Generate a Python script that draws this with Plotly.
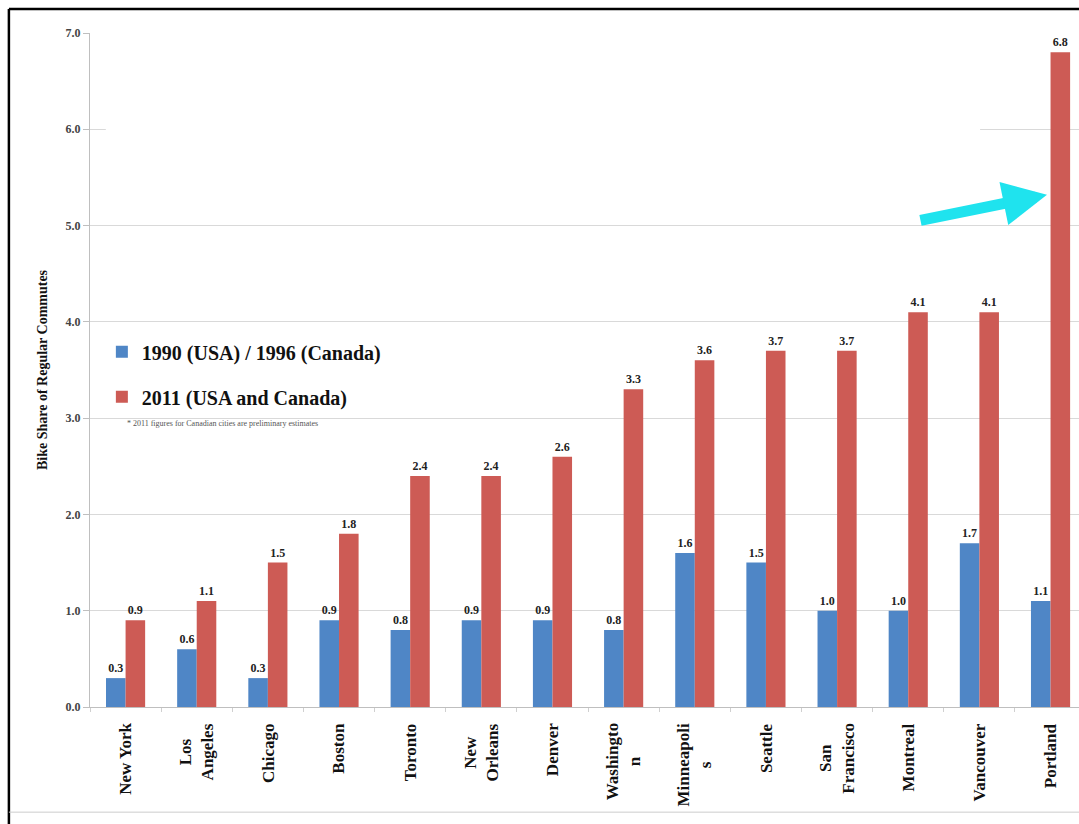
import plotly.graph_objects as go

cities = ["New York", "Los<br>Angeles", "Chicago", "Boston", "Toronto", "New<br>Orleans",
          "Denver", "Washingto<br>n", "Minneapoli<br>s", "Seattle", "San<br>Francisco",
          "Montreal", "Vancouver", "Portland"]
share_1990 = [0.3, 0.6, 0.3, 0.9, 0.8, 0.9, 0.9, 0.8, 1.6, 1.5, 1.0, 1.0, 1.7, 1.1]
share_2011 = [0.9, 1.1, 1.5, 1.8, 2.4, 2.4, 2.6, 3.3, 3.6, 3.7, 3.7, 4.1, 4.1, 6.8]
y_ticks = [0, 1, 2, 3, 4, 5, 6, 7]
y_tick_labels = ["0.0", "1.0", "2.0", "3.0", "4.0", "5.0", "6.0", "7.0"]

SERIF = "Liberation Serif, Times New Roman, serif"
BLUE = "#4F86C6"
RED = "#CD5B55"

fig = go.Figure()
fig.add_trace(go.Bar(
    x=cities, y=share_1990, name="1990 (USA) / 1996 (Canada)",
    marker=dict(color=BLUE, line=dict(width=0)),
    text=[f"{v:.1f}" for v in share_1990], textposition="outside",
    textfont=dict(family=SERIF, size=12, color="#222222", weight="bold"),
    legendgroup="a", cliponaxis=False,
))
fig.add_trace(go.Bar(
    x=cities, y=share_2011, name="2011 (USA and Canada)",
    marker=dict(color=RED, line=dict(width=0)),
    text=[f"{v:.1f}" for v in share_2011], textposition="outside",
    textfont=dict(family=SERIF, size=12, color="#222222", weight="bold"),
    legendgroup="b", cliponaxis=False,
))

fig.update_layout(
    width=1079, height=824,
    margin=dict(l=90, r=0, t=33, b=117),
    paper_bgcolor="white", plot_bgcolor="white",
    barmode="group", bargap=0.45, bargroupgap=0,
    font=dict(family=SERIF, color="#222222"),
    showlegend=True,
    legend=dict(
        x=0.012, y=0.556, xanchor="left", yanchor="top",
        bgcolor="rgba(0,0,0,0)",
        font=dict(family=SERIF, size=20, color="#111111", weight="bold"),
        traceorder="grouped", tracegroupgap=16, itemwidth=30,
    ),
    xaxis=dict(
        range=[-0.5, 13.4],
        showticklabels=False,
        showline=True, linecolor="#BFBFBF", linewidth=1,
        ticks="outside", tickson="boundaries", ticklen=4, tickcolor="#D0D0D0",
        showgrid=False,
    ),
    yaxis=dict(
        range=[0, 7], tickvals=y_ticks, ticktext=y_tick_labels,
        tickfont=dict(family=SERIF, size=12, color="#444444", weight="bold"),
        showgrid=True, gridcolor="#D9D9D9", gridwidth=1,
        showline=True, linecolor="#BFBFBF", linewidth=1,
        ticks="outside", ticklen=6, tickcolor="#BFBFBF",
        zeroline=False,
        title=dict(text="Bike Share of Regular Commutes",
                   font=dict(family=SERIF, size=14, color="#111111", weight="bold"),
                   standoff=14),
    ),
)

# rotated category labels, lines centred as in the original
for c in cities:
    fig.add_annotation(
        x=c, xref="x", y=-0.021, yref="paper",
        text=c, textangle=-90, align="center",
        xanchor="center", yanchor="top", showarrow=False,
        font=dict(family=SERIF, size=17, color="#111111", weight="bold"),
    )

# footnote
fig.add_annotation(
    text="* 2011 figures for Canadian cities are preliminary estimates",
    xref="paper", yref="paper", x=0.035, y=0.42, xanchor="left", yanchor="middle",
    showarrow=False, font=dict(family=SERIF, size=8, color="#555555"),
)

# cyan arrow pointing at Portland
fig.add_annotation(
    x=12.95, y=5.32, xref="x", yref="y",
    ax=-128, ay=26, axref="pixel", ayref="pixel",
    showarrow=True, arrowhead=2, arrowsize=0.8, arrowwidth=11,
    arrowcolor="#1FE3EE", text="",
)

# hide the faint 6.0 gridline (mostly invisible in original)
fig.add_shape(type="rect", xref="paper", yref="y", x0=0.016, x1=0.9, y0=5.985, y1=6.015,
              fillcolor="white", line=dict(width=0), layer="above")

# picture frame
fig.add_shape(type="line", xref="paper", yref="paper", x0=-0.082, x1=1.0, y0=1.0356, y1=1.0356,
              line=dict(color="black", width=2.5))
fig.add_shape(type="line", xref="paper", yref="paper", x0=-0.082, x1=-0.082, y0=1.0356, y1=-0.175,
              line=dict(color="black", width=2.5))
fig.add_shape(type="line", xref="paper", yref="paper", x0=-0.082, x1=1.0, y0=-0.156, y1=-0.156,
              line=dict(color="#CCCCCC", width=1))

fig.write_html("out.html")
